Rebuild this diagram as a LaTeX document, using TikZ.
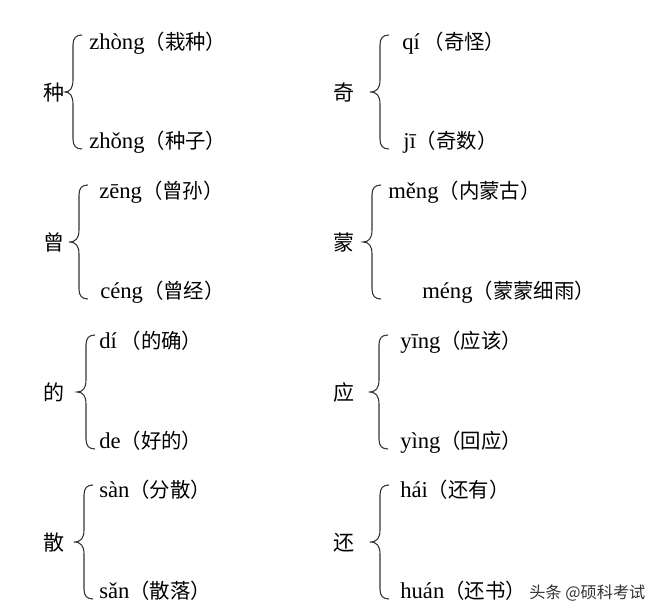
\documentclass[tikz,border=0pt]{standalone}
\usepackage{fontspec}
\setmainfont{Liberation Serif}
\newfontfamily\cjk[Scale=0.9]{Noto Sans CJK SC}
\usepackage{tikz}

\begin{document}
\begin{tikzpicture}[x=0.75pt,y=-0.75pt,
  head/.style={anchor=base,inner sep=0pt,font=\cjk\fontsize{17.5}{20}\selectfont},
  reading/.style={anchor=base west,inner sep=0pt,font=\fontsize{17}{20}\selectfont},
  brace/.style={line width=0.8pt,draw=black!80}]

\useasboundingbox (0,0) rectangle (668,616);

% left column
\node[head] (zhong) at (54,101) {种};
\node[reading] (zhong1) at (89,50) {zhòng{\cjk（栽种）}};
\node[reading] (zhong2) at (89,149) {zhǒng{\cjk（种子）}};

\node[head] (ceng) at (54,251) {曾};
\node[reading] (ceng1) at (99,199) {zēng{\cjk（曾孙）}};
\node[reading] (ceng2) at (100,299) {céng{\cjk（曾经）}};

\node[head] (de) at (54,401) {的};
\node[reading] (de1) at (99,349) {dí\,{\cjk（的确）}};
\node[reading] (de2) at (99,449) {de{\cjk（好的）}};

\node[head] (san) at (54,551) {散};
\node[reading] (san1) at (99,498) {sàn{\cjk（分散）}};
\node[reading] (san2) at (99,598) {sǎn{\cjk（散落）}};

% right column
\node[head] (qi) at (344,101) {奇};
\node[reading] (qi1) at (402,50) {qí\,{\cjk（奇怪）}};
\node[reading] (qi2) at (403,149) {jī{\cjk（奇数）}};

\node[head] (meng) at (344,251) {蒙};
\node[reading] (meng1) at (388,199) {měng{\cjk（内蒙古）}};
\node[reading] (meng2) at (422,299) {méng{\cjk（蒙蒙细雨）}};

\node[head] (ying) at (344,401) {应};
\node[reading] (ying1) at (400,349) {yīng{\cjk（应该）}};
\node[reading] (ying2) at (400,449) {yìng{\cjk（回应）}};

\node[head] (huan) at (344,551) {还};
\node[reading] (huan1) at (400,498) {hái{\cjk（还有）}};
\node[reading] (huan2) at (400,598) {huán{\cjk（还书）}};

\node[anchor=base west,inner sep=0pt,text=black!80,font=\cjk\fontsize{13.5}{15}\selectfont] (mark) at (529,599) {头条 @硕科考试};

% braces: line x / tip x / middle y
\foreach \L/\T/\M in {73/65/92, 79/69/242, 86/77/392, 84/74/542,
                      380/370/92, 372/363/242, 379/369/392, 380/370/542}
  \draw[brace] ({\L+9},{\M-57}) .. controls ({\L+3},{\M-57}) and (\L,{\M-54}) .. (\L,{\M-47})
    -- (\L,{\M-12}) .. controls (\L,{\M-4}) and ({\L-3},\M) .. (\T,\M)
    .. controls ({\L-3},\M) and (\L,{\M+4}) .. (\L,{\M+12})
    -- (\L,{\M+47}) .. controls (\L,{\M+54}) and ({\L+3},{\M+57}) .. ({\L+9},{\M+57});

\end{tikzpicture}
\end{document}
